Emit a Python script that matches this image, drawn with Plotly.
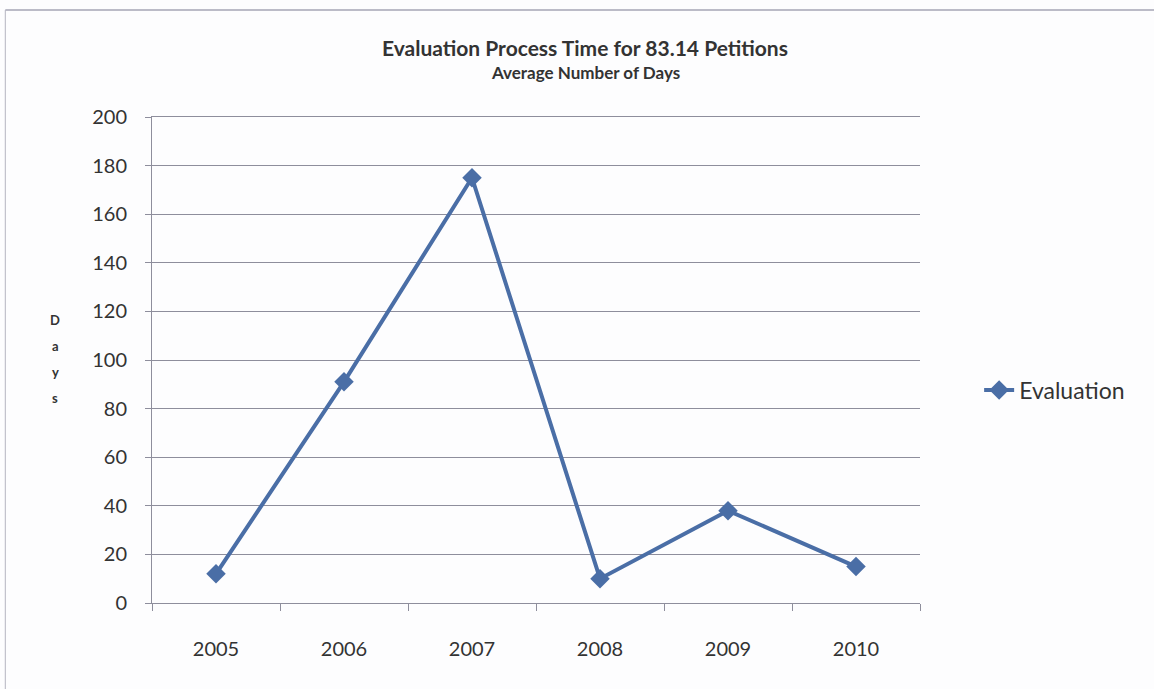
import plotly.graph_objects as go

years = ["2005", "2006", "2007", "2008", "2009", "2010"]
evaluation_days = [12, 91, 175, 10, 38, 15]
y_ticks = [0, 20, 40, 60, 80, 100, 120, 140, 160, 180, 200]
axis_letters = ["D", "a", "y", "s"]

LINE_BLUE = "#4a6ea6"
TEXT = "#333333"
GRID = "#8e8e9c"
FONT = "Lato, 'Open Sans', sans-serif"

fig = go.Figure()
fig.add_trace(go.Scatter(
    x=years,
    y=evaluation_days,
    mode="lines+markers",
    name="Evaluation",
    line=dict(color=LINE_BLUE, width=4),
    marker=dict(symbol="diamond", size=15, color=LINE_BLUE),
))

fig.update_layout(
    width=1154,
    height=689,
    margin=dict(l=152, r=234, t=117, b=86),
    paper_bgcolor="#fdfdfe",
    plot_bgcolor="#fdfdfe",
    font=dict(family=FONT, color=TEXT),
    showlegend=True,
    legend=dict(
        x=1.077, xanchor="left", y=0.438, yanchor="middle",
        font=dict(size=23, color=TEXT, family=FONT),
        bgcolor="rgba(0,0,0,0)",
    ),
    xaxis=dict(
        type="category",
        categoryorder="array",
        categoryarray=years,
        range=[-0.5, 5.5],
        tickson="boundaries",
        ticks="outside",
        ticklen=7,
        tickcolor=GRID,
        showline=True,
        mirror=True,
        linecolor=GRID,
        linewidth=1,
        showgrid=False,
        tickfont=dict(size=20, color=TEXT, family=FONT),
        ticklabelstandoff=28,
    ),
    yaxis=dict(
        range=[0, 200],
        tickvals=y_ticks,
        ticks="outside",
        ticklen=6,
        tickcolor=GRID,
        showline=True,
        linecolor=GRID,
        linewidth=1,
        showgrid=True,
        gridcolor=GRID,
        gridwidth=1,
        zeroline=False,
        tickfont=dict(size=20, color=TEXT, family=FONT),
        ticklabelstandoff=14,
    ),
)

# Title and subtitle
fig.add_annotation(
    text="<b>Evaluation Process Time for 83.14 Petitions</b>",
    xref="paper", yref="paper", x=0.564, y=1.143,
    xanchor="center", yanchor="middle", showarrow=False,
    font=dict(size=21, color=TEXT, family=FONT),
)
fig.add_annotation(
    text="<b>Average Number of Days</b>",
    xref="paper", yref="paper", x=0.564, y=1.092,
    xanchor="center", yanchor="middle", showarrow=False,
    font=dict(size=17, color=TEXT, family=FONT),
)

# Vertical stacked axis title, one letter per row
for i, letter in enumerate(axis_letters):
    fig.add_annotation(
        text="<b>" + letter + "</b>",
        xref="paper", yref="paper",
        x=-0.126, y=0.583 - i * 0.0535,
        xanchor="center", yanchor="middle",
        showarrow=False,
        font=dict(size=13, color=TEXT, family=FONT),
    )

# Chart-area border (top and left edges)
fig.add_shape(type="line", xref="paper", yref="paper",
              x0=-0.191, x1=1.31, y0=1.22, y1=1.22,
              line=dict(color="#a4a4b4", width=1.5))
fig.add_shape(type="line", xref="paper", yref="paper",
              x0=-0.191, x1=-0.191, y0=1.22, y1=-0.18,
              line=dict(color="#b4b4c0", width=1))

fig.write_html("out.html")
